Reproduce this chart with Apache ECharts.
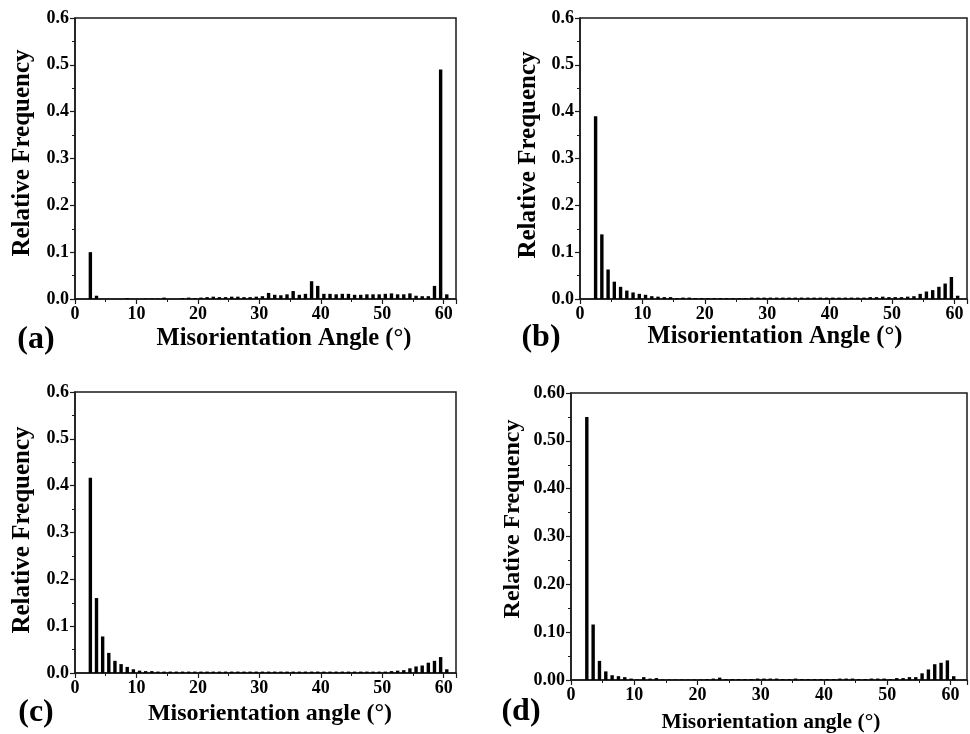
<!DOCTYPE html>
<html>
<head>
<meta charset="utf-8">
<script src="https://cdn.jsdelivr.net/npm/echarts@6/dist/echarts.min.js"></script>
<style>
  html, body { margin: 0; padding: 0; background: #fff; }
  #chart { width: 970px; height: 734px; }
</style>
</head>
<body>
<div id="chart"></div>
<script>
// bin centres (degrees), 1 degree bins
const angles = [2.5, 3.5, 4.5, 5.5, 6.5, 7.5, 8.5, 9.5,
  10.5, 11.5, 12.5, 13.5, 14.5, 15.5, 16.5, 17.5, 18.5, 19.5,
  20.5, 21.5, 22.5, 23.5, 24.5, 25.5, 26.5, 27.5, 28.5, 29.5,
  30.5, 31.5, 32.5, 33.5, 34.5, 35.5, 36.5, 37.5, 38.5, 39.5,
  40.5, 41.5, 42.5, 43.5, 44.5, 45.5, 46.5, 47.5, 48.5, 49.5,
  50.5, 51.5, 52.5, 53.5, 54.5, 55.5, 56.5, 57.5, 58.5, 59.5,
  60.5];

const freqA = [0.100, 0.007, 0, 0, 0, 0, 0.002, 0,
  0, 0.001, 0.001, 0.001, 0.003, 0, 0, 0.002, 0.003, 0.002,
  0.003, 0.004, 0.005, 0.004, 0.004, 0.005, 0.005, 0.004, 0.004, 0.005,
  0.006, 0.013, 0.009, 0.008, 0.010, 0.017, 0.009, 0.011, 0.038, 0.028,
  0.011, 0.011, 0.010, 0.011, 0.011, 0.009, 0.009, 0.010, 0.010, 0.010,
  0.011, 0.012, 0.010, 0.010, 0.012, 0.007, 0.006, 0.006, 0.028, 0.490,
  0.010];

const freqB = [0.390, 0.138, 0.063, 0.037, 0.026, 0.018, 0.014, 0.011,
  0.009, 0.006, 0.005, 0.004, 0.004, 0.002, 0.003, 0.003, 0.002, 0.002,
  0.002, 0.002, 0.002, 0.002, 0.002, 0.002, 0.002, 0.003, 0.003, 0.003,
  0.003, 0.003, 0.003, 0.003, 0.003, 0.003, 0.003, 0.003, 0.003, 0.003,
  0.003, 0.003, 0.003, 0.003, 0.003, 0.003, 0.004, 0.004, 0.005, 0.004,
  0.004, 0.004, 0.005, 0.006, 0.011, 0.016, 0.019, 0.026, 0.033, 0.047,
  0.007];

const freqC = [0.417, 0.160, 0.078, 0.043, 0.026, 0.019, 0.013, 0.008,
  0.005, 0.004, 0.004, 0.003, 0.003, 0.003, 0.003, 0.003, 0.003, 0.003,
  0.003, 0.003, 0.003, 0.003, 0.003, 0.003, 0.003, 0.003, 0.003, 0.003,
  0.003, 0.003, 0.003, 0.003, 0.003, 0.003, 0.003, 0.003, 0.003, 0.003,
  0.003, 0.003, 0.003, 0.003, 0.003, 0.003, 0.003, 0.003, 0.003, 0.003,
  0.003, 0.004, 0.005, 0.006, 0.010, 0.014, 0.016, 0.022, 0.026, 0.034,
  0.008];

const freqD = [0.550, 0.116, 0.040, 0.018, 0.010, 0.008, 0.006, 0.003,
  0.001, 0.006, 0.003, 0.004, 0.001, 0.001, 0.001, 0.001, 0.001, 0.001,
  0.001, 0.002, 0.003, 0.005, 0.002, 0.002, 0.002, 0.002, 0.002, 0.003,
  0.003, 0.003, 0.003, 0.002, 0.002, 0.003, 0.002, 0.002, 0.002, 0.002,
  0.002, 0.002, 0.003, 0.003, 0.003, 0.002, 0.002, 0.003, 0.003, 0.003,
  0.002, 0.004, 0.004, 0.006, 0.006, 0.014, 0.022, 0.033, 0.036, 0.041,
  0.008];

const xTicks = [0, 10, 20, 30, 40, 50, 60];
const yTitle = 'Relative Frequency';
const xTitles = ['Misorientation Angle (°)', 'Misorientation Angle (°)', 'Misorientation angle (°)', 'Misorientation angle (°)'];
const panelTags = ['(a)', '(b)', '(c)', '(d)'];

const FONT = '"Liberation Serif", "Times New Roman", serif';
const AXC = '#1a1a1a';

let chartDom = document.getElementById('chart');
let myChart = echarts.init(chartDom);

// panel boxes
const boxes = [
  { left: 75, top: 18, width: 381, height: 281 },
  { left: 580, top: 18, width: 388, height: 281 },
  { left: 75, top: 392, width: 381, height: 281 },
  { left: 571, top: 393, width: 404, height: 287 }
];
const yDigits = [1, 1, 1, 2];

let grids = [], xAxes = [], yAxes = [], series = [];
const allFreq = [freqA, freqB, freqC, freqD];

boxes.forEach(function (b, i) {
  grids.push({
    left: b.left, top: b.top, width: b.width, height: b.height,
    show: true, borderColor: AXC, borderWidth: 1.5, backgroundColor: 'transparent'
  });
  xAxes.push({
    gridIndex: i, type: 'value', min: 0, max: i === 3 ? 62.6 : 62, interval: 10,
    axisLine: { lineStyle: { color: AXC, width: 1.5 } },
    axisTick: { inside: false, length: 5, lineStyle: { color: AXC, width: 1.2 } },
    minorTick: { show: true, splitNumber: 2, length: 3, lineStyle: { color: AXC } },
    splitLine: { show: false },
    axisLabel: {
      margin: 6, fontFamily: FONT, fontWeight: 'bold', fontSize: 18, color: '#000',
      formatter: function (v) { return xTicks.indexOf(v) >= 0 ? String(v) : ''; }
    }
  });
  yAxes.push({
    gridIndex: i, type: 'value', min: 0, max: 0.6, interval: 0.1,
    axisLine: { show: true, lineStyle: { color: AXC, width: 1.5 } },
    axisTick: { show: true, inside: false, length: 5, lineStyle: { color: AXC, width: 1.2 } },
    minorTick: { show: true, splitNumber: 2, length: 3, lineStyle: { color: AXC } },
    splitLine: { show: false },
    axisLabel: {
      margin: 6, fontFamily: FONT, fontWeight: 'bold', fontSize: 18, color: '#000',
      formatter: function (v) { return v.toFixed(yDigits[i]); }
    }
  });
  series.push({
    type: 'bar', xAxisIndex: i, yAxisIndex: i,
    barWidth: 3.4,
    itemStyle: { color: '#000' },
    data: angles.map(function (a, k) { return [a, allFreq[i][k]]; })
  });
});

// text positions for titles and tags
const yTitlePos = [[23, 153], [529, 155], [23, 530], [513, 519]];
const xTitlePos = [[284, 339], [775, 337], [270, 714], [771, 722]];
const tagPos = [[36, 340], [541, 338], [36, 713], [521, 712]];
const yTitleSize = [25, 25, 25, 24];
const xTitleSize = [24.5, 24.5, 24, 21.5];

let graphic = [];
for (let i = 0; i < 4; i++) {
  graphic.push({
    type: 'text', x: yTitlePos[i][0], y: yTitlePos[i][1], rotation: Math.PI / 2,
    style: {
      text: yTitle, fontFamily: FONT, fontWeight: 'bold', fontSize: yTitleSize[i],
      fill: '#000', align: 'center', verticalAlign: 'middle'
    }
  });
  graphic.push({
    type: 'text', x: xTitlePos[i][0], y: xTitlePos[i][1],
    style: {
      text: xTitles[i], fontFamily: FONT, fontWeight: 'bold', fontSize: xTitleSize[i],
      fill: '#000', align: 'center', verticalAlign: 'middle'
    }
  });
  graphic.push({
    type: 'text', x: tagPos[i][0], y: tagPos[i][1],
    style: {
      text: panelTags[i], fontFamily: FONT, fontWeight: 'bold', fontSize: 32,
      fill: '#000', align: 'center', verticalAlign: 'middle'
    }
  });
}

let option = {
  animation: false,
  backgroundColor: '#fff',
  grid: grids,
  xAxis: xAxes,
  yAxis: yAxes,
  series: series,
  graphic: graphic
};

myChart.setOption(option);
window.addEventListener('resize', () => {
  myChart.resize();
});
</script>
</body>
</html>
